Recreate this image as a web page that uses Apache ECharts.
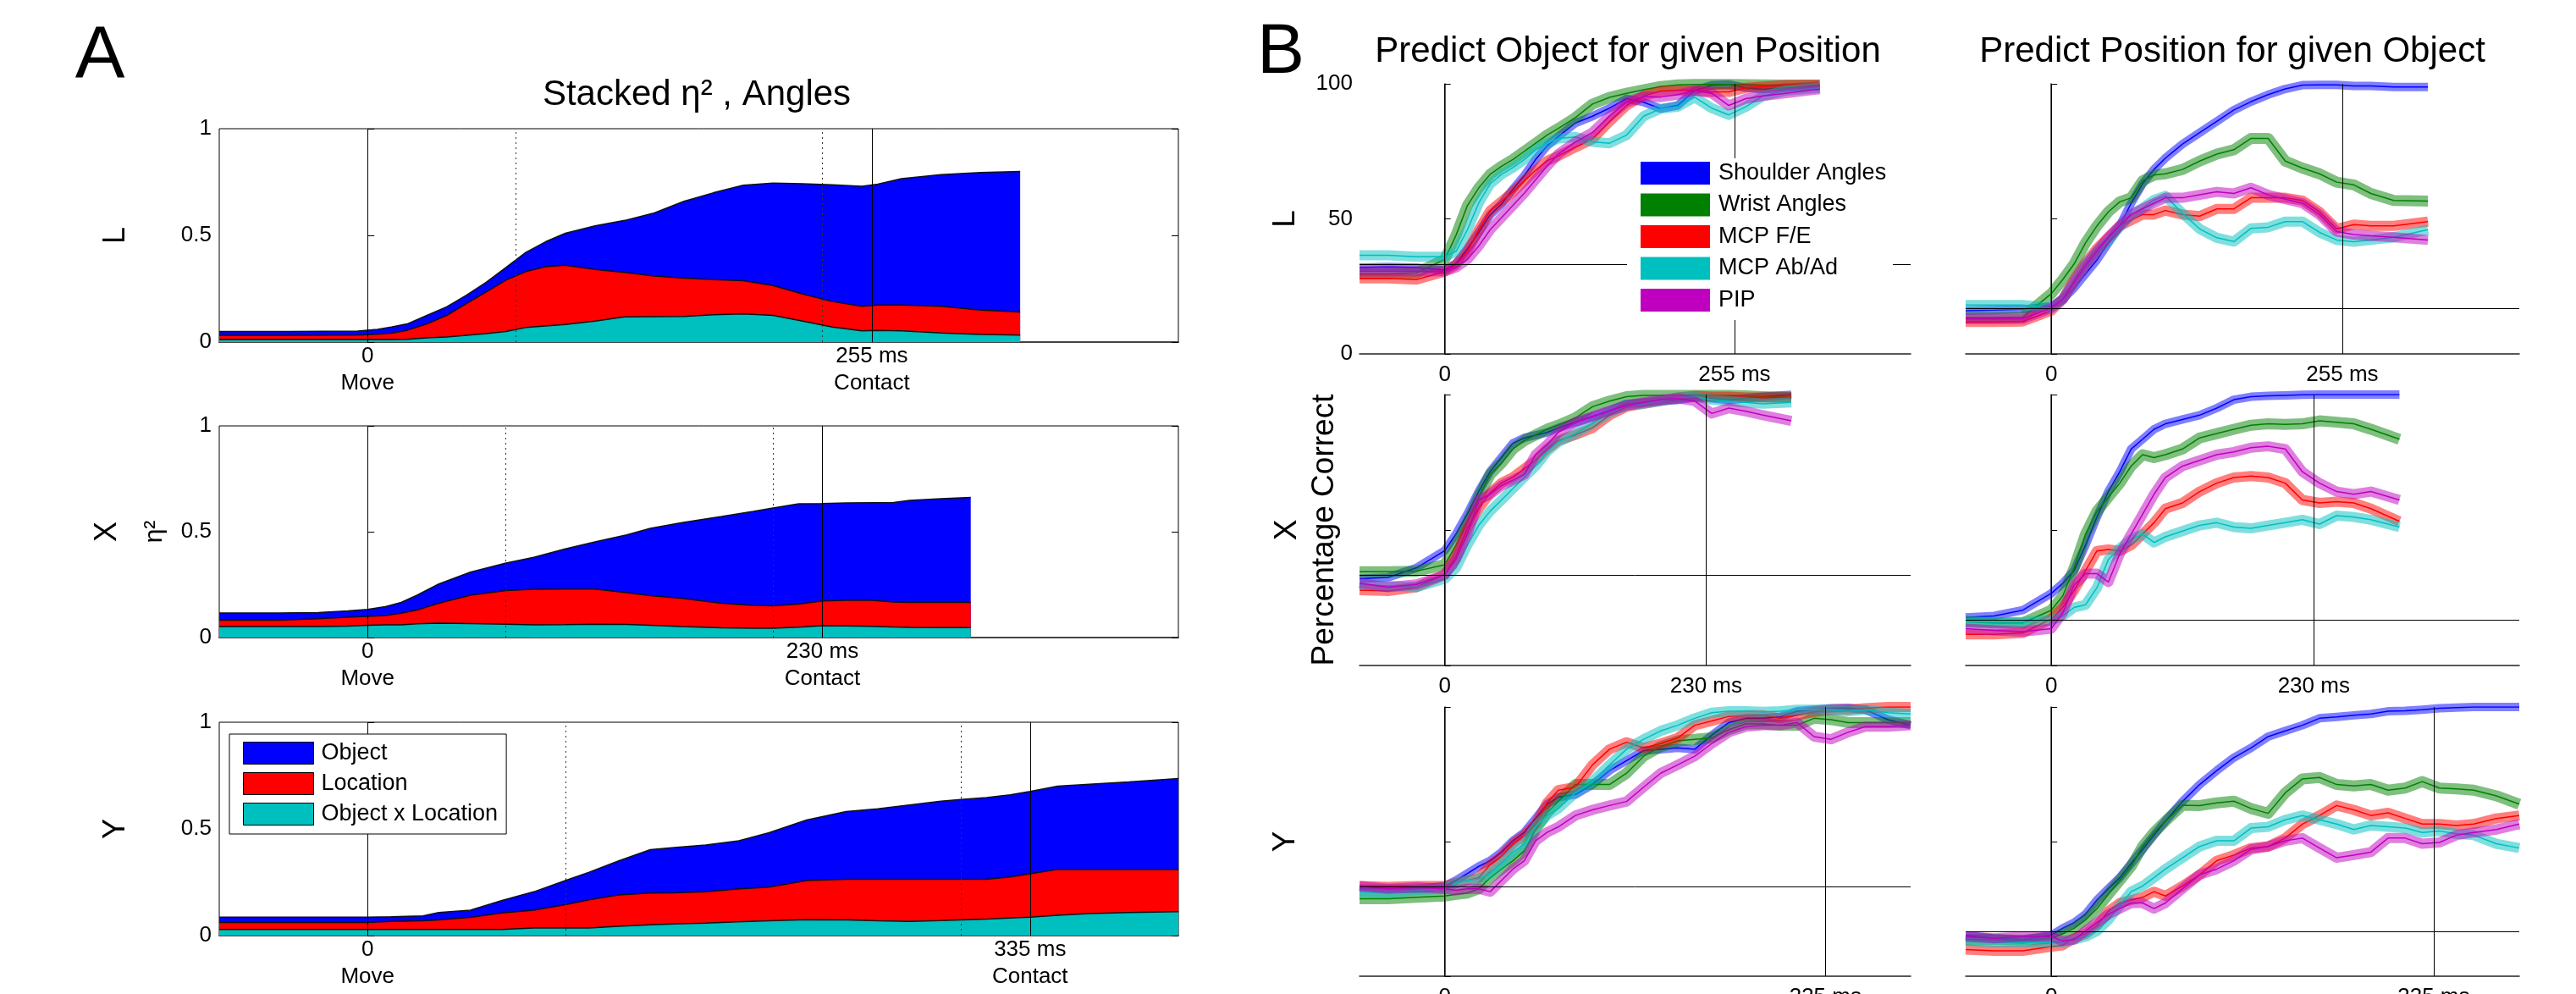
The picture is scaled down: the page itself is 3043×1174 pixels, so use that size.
<!DOCTYPE html>
<html>
<head>
<meta charset="utf-8">
<script src="https://cdn.jsdelivr.net/npm/echarts@6/dist/echarts.min.js"></script>
<style>
  html, body { margin: 0; background: #fff; }
  #chart { width: 3043px; height: 1174px; }
</style>
</head>
<body>
<div id="chart"></div>
<script>
// ---- shared ----
const rowNames = ['L', 'X', 'Y'];
const contactMs = [255, 230, 335];
const dottedMs = [[75, 230], [70, 205], [100, 300]];
const chanceObj = 33.3;   // predict object (3 objects)
const chancePos = 16.7;   // predict position (6 positions)

// ---- panel A : stacked eta^2 (tops of each stacked layer) ----
const tA_L = [-75, -40, -5, 5, 12, 20, 30, 40, 50, 60, 70, 80, 90, 100, 115, 130, 145, 160, 175, 190, 205, 220, 235, 250, 258, 270, 290, 310, 330];
const objTop_L = [0.05, 0.05, 0.052, 0.06, 0.07, 0.085, 0.125, 0.165, 0.22, 0.28, 0.35, 0.42, 0.47, 0.51, 0.545, 0.57, 0.605, 0.66, 0.70, 0.735, 0.745, 0.742, 0.737, 0.73, 0.74, 0.766, 0.785, 0.795, 0.80];
const locTop_L = [0.032, 0.032, 0.033, 0.037, 0.042, 0.055, 0.085, 0.125, 0.18, 0.235, 0.29, 0.33, 0.353, 0.36, 0.34, 0.326, 0.31, 0.30, 0.293, 0.288, 0.265, 0.225, 0.19, 0.168, 0.174, 0.174, 0.168, 0.15, 0.141];
const intTop_L = [0.012, 0.012, 0.012, 0.012, 0.012, 0.013, 0.02, 0.024, 0.032, 0.04, 0.05, 0.068, 0.075, 0.082, 0.098, 0.118, 0.119, 0.12, 0.128, 0.132, 0.125, 0.098, 0.07, 0.053, 0.055, 0.053, 0.043, 0.036, 0.033];

const tA_X = [-75, -45, -25, -10, 0, 9, 17, 25, 36, 52, 70, 84, 100, 115, 131, 143, 159, 179, 195, 205, 218, 230, 242, 255, 266, 274, 290, 305];
const objTop_X = [0.116, 0.116, 0.118, 0.126, 0.133, 0.146, 0.166, 0.20, 0.253, 0.309, 0.352, 0.379, 0.419, 0.452, 0.485, 0.516, 0.543, 0.572, 0.596, 0.612, 0.632, 0.633, 0.636, 0.637, 0.638, 0.648, 0.656, 0.662];
const locTop_X = [0.082, 0.082, 0.089, 0.096, 0.10, 0.104, 0.115, 0.13, 0.162, 0.20, 0.222, 0.228, 0.229, 0.229, 0.212, 0.198, 0.185, 0.162, 0.152, 0.15, 0.158, 0.173, 0.176, 0.176, 0.168, 0.166, 0.166, 0.166];
const intTop_X = [0.052, 0.052, 0.052, 0.054, 0.058, 0.06, 0.06, 0.065, 0.068, 0.066, 0.063, 0.06, 0.061, 0.063, 0.062, 0.058, 0.052, 0.046, 0.044, 0.044, 0.049, 0.056, 0.055, 0.053, 0.05, 0.048, 0.047, 0.047];

const tA_Y = [-75, -40, 0, 12, 28, 36, 52, 68, 84, 100, 112, 127, 143, 155, 171, 187, 203, 222, 242, 258, 274, 290, 300, 313, 325, 335, 349, 365, 385, 410];
const objTop_Y = [0.086, 0.086, 0.086, 0.088, 0.092, 0.108, 0.119, 0.165, 0.205, 0.258, 0.297, 0.35, 0.403, 0.413, 0.425, 0.443, 0.482, 0.542, 0.581, 0.594, 0.612, 0.63, 0.638, 0.647, 0.66, 0.676, 0.70, 0.709, 0.72, 0.736];
const locTop_Y = [0.062, 0.062, 0.062, 0.066, 0.069, 0.073, 0.085, 0.106, 0.119, 0.145, 0.168, 0.19, 0.199, 0.2, 0.205, 0.218, 0.227, 0.258, 0.264, 0.264, 0.264, 0.264, 0.264, 0.264, 0.275, 0.29, 0.31, 0.31, 0.31, 0.31];
const intTop_Y = [0.029, 0.029, 0.029, 0.029, 0.029, 0.029, 0.029, 0.029, 0.036, 0.036, 0.036, 0.044, 0.051, 0.055, 0.059, 0.064, 0.069, 0.074, 0.073, 0.069, 0.066, 0.07, 0.073, 0.077, 0.082, 0.086, 0.095, 0.103, 0.108, 0.112];

// ---- panel B : percentage correct ----
const tB_L = [-75, -50, -25, 0, 10, 20, 30, 40, 50, 60, 70, 80, 90, 100, 115, 130, 145, 160, 175, 190, 205, 220, 235, 250, 265, 280, 300, 330];
const tB_X = [-75, -50, -25, 0, 10, 20, 30, 40, 50, 60, 70, 80, 90, 100, 115, 130, 145, 160, 175, 190, 205, 220, 235, 250, 265, 280, 305];
const tB_Y = [-75, -50, -25, 0, 10, 20, 30, 40, 50, 60, 70, 80, 90, 100, 115, 130, 145, 160, 175, 190, 205, 220, 235, 250, 265, 280, 295, 310, 325, 340, 355, 370, 390, 410];

// predict object for given position
const objL_sh = [32, 32.2, 32, 31, 33.5, 39, 45, 51.5, 55.5, 61, 66, 72, 77, 80.5, 85.5, 88, 91, 94.5, 93.2, 90.8, 92, 97.5, 99.5, 99.8, 98.5, 98, 98.6, 99.2];
const objL_wr = [29.6, 29.6, 30, 35, 44, 55, 61.5, 66.5, 69.5, 72, 75, 78, 81, 83.5, 87.5, 92.5, 95, 96.5, 97.8, 99, 99.6, 99.8, 99.8, 99.8, 99.7, 99.6, 99.5, 99.5];
const objL_fe = [28, 28, 27.5, 30.5, 33, 38, 46, 53, 56.5, 60, 64, 68, 71.5, 73.3, 76.5, 79.5, 86, 92, 95.5, 97.3, 97.6, 97.6, 97, 97, 98.5, 99, 99.5, 99.7];
const objL_ab = [36.5, 36.5, 36, 36, 38, 46, 56, 63, 66.5, 69, 72, 75.5, 78, 79.8, 80.3, 78.5, 78, 81, 88, 90.8, 91.5, 95, 91, 88.5, 91.5, 95.5, 97.5, 98.5];
const objL_pip = [30.6, 30.6, 30.6, 30.6, 32, 35, 40, 46, 50.5, 55, 59.5, 64.5, 69.5, 74, 78.5, 82, 88, 93.2, 95.3, 95.1, 96, 97.5, 96.5, 92, 94.5, 95.5, 96.5, 98];

const objX_sh = [32, 32.5, 36, 42.4, 48.6, 56, 64.3, 71.6, 76.8, 82, 84, 85, 86, 87.7, 89.8, 91.9, 94, 96.6, 97, 97.6, 98, 98.9, 98.6, 98, 98.6, 99.2, 99.9];
const objX_wr = [34.6, 34.6, 34.8, 37.2, 44.5, 52.8, 62.2, 70.5, 74.7, 79.9, 83, 85.1, 87.2, 88.7, 91.4, 95.5, 97.6, 99.2, 99.7, 99.7, 99.7, 99.7, 99.7, 99.7, 99.5, 99.2, 98.9];
const objX_fe = [27.8, 27.5, 28.9, 33.5, 40.3, 50.7, 58, 63.7, 67.4, 69.5, 72.6, 75.7, 79.9, 83, 85.1, 87.7, 92.4, 95.5, 96.6, 97.6, 98.9, 99.5, 99.2, 99.2, 98.9, 98.9, 98.9];
const objX_ab = [29.9, 29.4, 28.9, 32, 36.1, 44.5, 51.8, 57, 61.1, 65.3, 69.5, 73.6, 78.9, 82.5, 85.6, 89.3, 93.4, 96, 96.6, 97.6, 98.9, 99.2, 98.1, 97.6, 97.1, 96.6, 97.1];
const objX_pip = [30.4, 28.9, 29.9, 33.5, 39.3, 48.6, 61.1, 63.2, 66.4, 68.4, 70.5, 77.8, 81.5, 86.1, 89.8, 91.9, 94, 96, 97.1, 98.1, 98.6, 97.6, 93, 95, 93.8, 92.4, 90.3];

const objY_sh = [32.5, 32.5, 32.5, 33.5, 35.6, 38.2, 40.8, 42.9, 46.1, 50.3, 53.4, 58.6, 63.9, 66.5, 67.5, 71.2, 76.4, 80.1, 83.8, 84.3, 84.8, 84.3, 89.5, 94.2, 95.8, 95.8, 96.3, 98.4, 99, 99.5, 99.7, 99, 95.3, 93.2];
const objY_wr = [28.8, 28.8, 29.3, 29.8, 30.4, 30.9, 32.5, 36.6, 39.8, 42.9, 46.6, 54.5, 60.7, 64.9, 71.2, 71.2, 71.2, 75.4, 81.7, 85.3, 87.4, 88, 88.5, 91.6, 93.7, 93.7, 93.2, 93.2, 95.8, 95.3, 94.2, 94.2, 94.2, 94.2];
const objY_fe = [33.5, 33.2, 33.5, 33.5, 34.6, 35.6, 36.6, 41.4, 44.5, 49.2, 52.4, 56.5, 64.4, 69.1, 70.2, 78.5, 84.3, 86.9, 84.8, 86.4, 88.5, 93.2, 94.8, 96.5, 96.9, 96.9, 95.8, 96.9, 98.2, 99, 99, 99.5, 100, 100];
const objY_ab = [31.4, 30.9, 31.9, 32.5, 34.6, 35.6, 36.1, 38.2, 41.9, 46.1, 49.2, 55.5, 59.7, 62.3, 68.1, 72.3, 78.5, 84.3, 88, 91.1, 93.2, 95.8, 97.9, 98.4, 98.4, 98.2, 98.4, 99, 99, 99, 98.4, 99, 97.9, 97.4];
const objY_pip = [33.5, 32.5, 33, 32.5, 31.9, 32.5, 32.5, 31.4, 35.6, 39.8, 42.9, 50.3, 53.4, 55.5, 59.7, 61.8, 63.4, 64.9, 70.2, 75.4, 78.5, 81.7, 86.4, 90.6, 92.7, 93.2, 93.2, 94.2, 89, 88, 90.6, 92.7, 92.7, 93.2];

// predict position for given object
const posL_sh = [16, 16.2, 16.5, 17.6, 20.2, 24.4, 29.6, 34.8, 41.1, 47.4, 55.8, 63, 68.3, 72.5, 77.7, 81.9, 86.1, 90.3, 93.4, 96, 98.1, 99.5, 99.6, 99.6, 99.2, 99.2, 98.8, 98.8];
const posL_wr = [13.4, 13.4, 13.6, 22.3, 27.5, 33.3, 41.1, 47.4, 52.6, 56.3, 57.8, 64.1, 66.2, 66.7, 68.3, 71.4, 74, 75.6, 79.8, 79.8, 71.4, 68.8, 66.7, 63.6, 62.6, 59.4, 56.8, 56.6];
const posL_fe = [11.8, 11.8, 12, 16, 20.2, 27.5, 33.8, 39, 43.2, 47.4, 49.5, 51.6, 51.6, 53.1, 51.6, 51, 53.7, 53.7, 57.8, 57.8, 57.8, 56.8, 52.6, 46.3, 47.9, 47.4, 47.4, 49];
const posL_ab = [18.1, 18.1, 18.1, 17, 20.2, 26.5, 33, 38, 42, 47, 51.5, 54, 57, 58.5, 52, 46.3, 43, 41.6, 46.5, 46.9, 49, 49, 45, 42.2, 41.5, 42.2, 43.2, 46];
const posL_pip = [12.9, 12.9, 13, 17, 20.2, 26.5, 32.7, 38, 43.2, 47.4, 51.6, 53.7, 55.8, 57.8, 57.8, 58.9, 60, 59.4, 61.5, 58.9, 57.3, 55.8, 51.6, 45.3, 44.2, 43.7, 43.2, 42.2];

const posX_sh = [17.7, 18.3, 20.4, 26.6, 30.3, 35, 44.4, 54.8, 64.2, 71.5, 79.9, 83.5, 87.2, 89.2, 90.8, 92.4, 95, 98.1, 99.2, 99.5, 99.7, 99.9, 100, 100, 100, 100, 100];
const posX_wr = [16.2, 15.7, 15.7, 20.4, 25.6, 36, 48.5, 56.9, 62.1, 67.3, 73.6, 77.8, 76.7, 77.8, 79.9, 84, 85.6, 87.2, 88.7, 89.2, 89, 89.2, 90.3, 89.8, 89.2, 87.2, 83.5];
const posX_fe = [11.5, 11.5, 12, 17.2, 21.4, 27.7, 35, 42.3, 42.8, 42.3, 44.4, 48.5, 52.7, 57.9, 60, 64.2, 67.3, 69.4, 69.9, 69.4, 67.3, 61.1, 60, 60.5, 60, 57.9, 53.2];
const posX_ab = [16.2, 16, 16, 16.7, 18.3, 21.4, 22.4, 28.7, 39.1, 43.3, 46.5, 48.5, 45.4, 47.5, 49.6, 51.7, 52.7, 51.1, 50.6, 51.7, 52.7, 53.8, 52.2, 55.3, 54.8, 53.8, 51.1];
const posX_pip = [13.6, 13, 12.5, 13.6, 19.3, 29.7, 33.9, 33.9, 30.8, 41.2, 48.5, 55.8, 63.2, 69.4, 73.6, 75.7, 77.8, 78.8, 80.4, 80.9, 79.9, 71.5, 67.3, 64.2, 63.2, 64.2, 61.1];

const posY_sh = [15.2, 14.1, 13.6, 15.2, 17.8, 19.9, 23, 28.3, 32.5, 36.6, 41.9, 47.1, 52.4, 57.6, 64.9, 71.2, 76.4, 81.2, 84.8, 89, 91.1, 93.2, 95.8, 96.3, 96.9, 97.4, 98.4, 98.6, 99, 99.5, 99.8, 100, 100, 100];
const posY_wr = [13.6, 13.6, 13.4, 14.1, 15.7, 17.8, 20.9, 25.1, 30.4, 35.6, 40.8, 48.2, 53.4, 57.6, 63.5, 63.4, 64.4, 65, 62.3, 60.5, 68.1, 73.3, 73.8, 71.2, 70.7, 71.2, 69.1, 69.9, 72.3, 69.9, 69.6, 69.1, 67, 63.9];
const posY_fe = [9.9, 9.4, 9.4, 11, 11.5, 14.1, 15.7, 18.8, 24.1, 27.2, 28.3, 29.3, 31.4, 29.8, 33.5, 37.7, 42.9, 45, 47.6, 48.2, 51.3, 56.5, 59.7, 63.4, 61.8, 59.7, 60.7, 58.6, 56.5, 56.5, 56, 56.5, 58.6, 59.7];
const posY_ab = [13.1, 12.6, 12.6, 12.6, 12.6, 13.6, 14.7, 16.8, 20.9, 26.2, 31.4, 33.5, 36.6, 39.8, 44, 48.2, 50.3, 50.3, 55, 55.5, 58.1, 59.7, 58.1, 56.5, 54.5, 56, 55.5, 55, 53.4, 53.9, 52.9, 52.4, 49.2, 47.6];
const posY_pip = [14.7, 14.1, 14.7, 14.7, 13.1, 13.6, 16.8, 19.9, 23, 25.1, 27.2, 27.2, 25.1, 27.2, 32.5, 37.7, 39.8, 42.9, 47.1, 48.2, 50.3, 51.3, 47.6, 44, 45, 46.1, 51.3, 51.3, 49.2, 49.7, 52.4, 53.4, 54.5, 56.5];

// ---- styling ----
const FONT = 'Liberation Sans, Arial, sans-serif';
const layersA = [
  { name: 'Object', color: '#0000ff' },
  { name: 'Location', color: '#ff0000' },
  { name: 'Object x Location', color: '#00bfbf' }
];
const joints = [
  { name: 'Shoulder Angles', color: '#0000ff', band: 'rgba(0,0,255,0.5)', w: 10 },
  { name: 'Wrist Angles', color: '#008000', band: 'rgba(0,128,0,0.5)', w: 13 },
  { name: 'MCP F/E', color: '#ff0000', band: 'rgba(255,0,0,0.5)', w: 12 },
  { name: 'MCP Ab/Ad', color: '#00bfbf', band: 'rgba(0,191,191,0.5)', w: 12 },
  { name: 'PIP', color: '#bf00bf', band: 'rgba(191,0,191,0.5)', w: 12 }
];

const rowsA = [
  { t: tA_L, tops: [objTop_L, locTop_L, intTop_L] },
  { t: tA_X, tops: [objTop_X, locTop_X, intTop_X] },
  { t: tA_Y, tops: [objTop_Y, locTop_Y, intTop_Y] }
];
const rowsB = [
  { t: tB_L, obj: [objL_sh, objL_wr, objL_fe, objL_ab, objL_pip], pos: [posL_sh, posL_wr, posL_fe, posL_ab, posL_pip] },
  { t: tB_X, obj: [objX_sh, objX_wr, objX_fe, objX_ab, objX_pip], pos: [posX_sh, posX_wr, posX_fe, posX_ab, posX_pip] },
  { t: tB_Y, obj: [objY_sh, objY_wr, objY_fe, objY_ab, objY_pip], pos: [posY_sh, posY_wr, posY_fe, posY_ab, posY_pip] }
];

function zip(t, v) { return t.map((x, i) => [x, v[i]]); }

const grid = [];
const xAxis = [];
const yAxis = [];
const series = [];
const msLabel = (c) => (v) => (v === 0 ? '0' : c + ' ms');

// panel A grids 0..2
const gridA = [[152, 252], [503, 250], [853, 252]];
gridA.forEach(([top, h], r) => {
  grid.push({ left: 259, top: top, width: 1133, height: h, show: true, borderColor: '#000', borderWidth: 1, outerBoundsMode: 'none' });
  const c = contactMs[r];
  xAxis.push({
    gridIndex: r, type: 'value', min: -75, max: 410,
    axisLine: { show: true, lineStyle: { color: '#444', width: 2 } },
    axisTick: { show: false }, splitLine: { show: false },
    axisLabel: {
      customValues: [0, c], margin: 1, fontSize: 26, lineHeight: 32, color: '#000', fontFamily: FONT,
      formatter: (v) => (v === 0 ? '0\nMove' : c + ' ms\nContact')
    }
  });
  yAxis.push({
    gridIndex: r, type: 'value', min: 0, max: 1, interval: 0.5,
    axisLine: { show: false }, splitLine: { show: false },
    axisTick: { show: true, inside: true, length: 8, lineStyle: { color: '#000' } },
    axisLabel: { margin: 9, fontSize: 26, color: '#000', fontFamily: FONT },
    name: r === 1 ? '{a|X}\n{b|η²}' : rowNames[r],
    nameLocation: 'middle', nameRotate: 90, nameGap: r === 1 ? 46 : 104,
    nameTextStyle: {
      fontSize: 36, lineHeight: 36, color: '#000', fontFamily: FONT,
      rich: { a: { fontSize: 36, lineHeight: 55, fontFamily: FONT }, b: { fontSize: 30, lineHeight: 55, fontFamily: FONT } }
    }
  });
});

// panel B grids 3..8
const gridB = [[99, 319], [466, 320], [835, 318]];
gridB.forEach(([top, h], r) => {
  [0, 1].forEach((col) => {
    const gi = grid.length;
    grid.push({ left: col === 0 ? 1606 : 2322, top: top, width: col === 0 ? 651 : 654, height: h, show: false, outerBoundsMode: 'none' });
    const c = contactMs[r];
    xAxis.push({
      gridIndex: gi, type: 'value', min: -75, max: 410,
      axisLine: { show: true, lineStyle: { color: '#222', width: 1.5 } },
      axisTick: { show: true, inside: true, length: 7, customValues: [0, c], lineStyle: { color: '#000' } },
      splitLine: { show: false },
      axisLabel: { customValues: [0, c], margin: 12, fontSize: 26, color: '#000', fontFamily: FONT, formatter: msLabel(c) }
    });
    const yA = {
      gridIndex: gi, type: 'value', min: 0, max: 100, interval: 50,
      axisLine: { show: true, lineStyle: { color: '#222', width: 1.5 } },
      axisTick: { show: true, inside: true, length: 7, lineStyle: { color: '#000' } },
      splitLine: { show: false },
      axisLabel: { show: r === 0 && col === 0, margin: 8, fontSize: 26, color: '#000', fontFamily: FONT }
    };
    if (col === 0) {
      yA.name = r === 1 ? 'X\nPercentage Correct' : rowNames[r];
      yA.nameLocation = 'middle';
      yA.nameRotate = 90;
      yA.nameGap = r === 1 ? 19 : 69;
      yA.nameTextStyle = { fontSize: 37, lineHeight: r === 1 ? 44 : 37, color: '#000', fontFamily: FONT };
    }
    yAxis.push(yA);
  });
});

// right-hand tick marks of panel A boxes
[0, 1, 2].forEach((r) => {
  yAxis.push({
    gridIndex: r, type: 'value', position: 'right', min: 0, max: 1, interval: 0.5,
    axisLine: { show: false }, axisLabel: { show: false }, splitLine: { show: false },
    axisTick: { show: true, inside: true, length: 8, lineStyle: { color: '#000' } }
  });
});

// panel A series
rowsA.forEach((row, r) => {
  layersA.forEach((layer, k) => {
    const s = {
      type: 'line', name: layer.name, xAxisIndex: r, yAxisIndex: r,
      data: zip(row.t, row.tops[k]), symbol: 'none', color: layer.color,
      lineStyle: { color: '#111', width: 1.5 },
      areaStyle: { color: layer.color, opacity: 1 },
      silent: true, z: 2 + k
    };
    if (k === 2) {
      const solid = { type: 'solid', color: '#000', width: 1 };
      const dot = { type: [2, 4], color: '#333', width: 1 };
      s.markLine = {
        silent: true, symbol: ['none', 'none'], label: { show: false },
        data: [
          { xAxis: 0, lineStyle: solid }, { xAxis: contactMs[r], lineStyle: solid },
          { xAxis: dottedMs[r][0], lineStyle: dot }, { xAxis: dottedMs[r][1], lineStyle: dot }
        ]
      };
    }
    series.push(s);
  });
});

// panel B series
rowsB.forEach((row, r) => {
  [row.obj, row.pos].forEach((set, col) => {
    const gi = 3 + r * 2 + col;
    joints.forEach((j, k) => {
      const band = {
        type: 'line', name: j.name, xAxisIndex: gi, yAxisIndex: gi,
        data: zip(row.t, set[k]), symbol: 'none', color: j.color, silent: true,
        lineStyle: { color: j.band, width: j.w, cap: 'butt', join: 'round' }
      };
      if (k === 0) {
        const ln = { type: 'solid', color: '#000', width: 1 };
        band.markLine = {
          silent: true, symbol: ['none', 'none'], label: { show: false }, lineStyle: ln,
          data: [{ xAxis: 0 }, { xAxis: contactMs[r] }, { yAxis: col === 0 ? chanceObj : chancePos }]
        };
      }
      series.push(band);
      series.push({
        type: 'line', name: j.name, xAxisIndex: gi, yAxisIndex: gi,
        data: zip(row.t, set[k]), symbol: 'none', color: j.color, silent: true,
        lineStyle: { color: j.color, width: 1.5 }
      });
    });
  });
});

const txt = (text, x, y, size) => ({
  type: 'text', x: x, y: y, silent: true,
  style: { text: text, fill: '#000', fontSize: size, fontFamily: FONT, align: 'center', verticalAlign: 'middle' }
});

const option = {
  animation: false,
  backgroundColor: '#fff',
  textStyle: { fontFamily: FONT },
  grid: grid,
  xAxis: xAxis,
  yAxis: yAxis,
  series: series,
  legend: [
    {
      data: layersA.map((l) => ({ name: l.name, itemStyle: { color: l.color, borderColor: '#000', borderWidth: 1 } })),
      orient: 'vertical', left: 271, top: 867, icon: 'rect',
      itemWidth: 83, itemHeight: 26, itemGap: 9,
      padding: [9, 10, 10, 16], backgroundColor: '#fff', borderColor: '#000', borderWidth: 1,
      selectedMode: false, z: 10,
      textStyle: { fontSize: 27, color: '#000', fontFamily: FONT, padding: [0, 0, 0, 4] }
    },
    {
      data: joints.map((j) => ({ name: j.name, itemStyle: { color: j.color, borderWidth: 0 } })),
      orient: 'vertical', left: 1922, top: 187, icon: 'rect',
      itemWidth: 82, itemHeight: 27, itemGap: 10.5,
      padding: [4, 8, 10, 16], backgroundColor: '#fff', borderWidth: 0,
      selectedMode: false, z: 10,
      textStyle: { fontSize: 27, color: '#000', fontFamily: FONT, padding: [0, 0, 0, 5] }
    }
  ],
  graphic: [
    txt('A', 118, 68, 88),
    txt('B', 1513, 63, 84),
    txt('Stacked η² , Angles', 823, 112, 42),
    txt('Predict Object for given Position', 1923, 61, 42),
    txt('Predict Position for given Object', 2637, 61, 42)
  ]
};

const chart = echarts.init(document.getElementById('chart'));
chart.setOption(option);
</script>
</body>
</html>
